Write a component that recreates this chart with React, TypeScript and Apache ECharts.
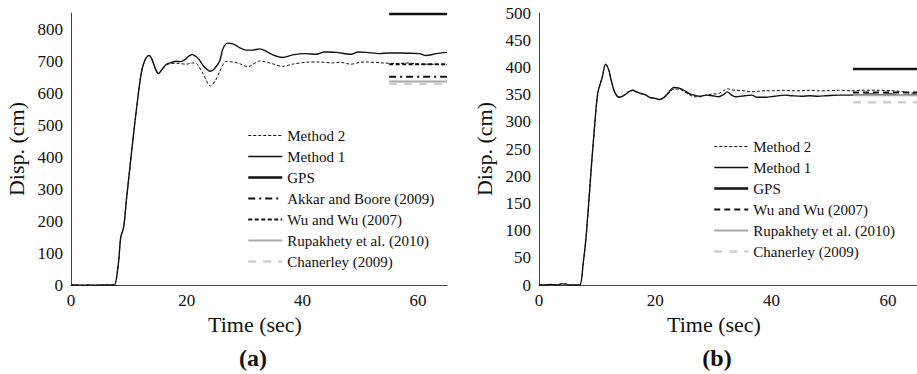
import React, { useEffect, useRef } from "react";
import * as echarts from "echarts";

// ---- Data: chart (a) ----
const method1A: number[][] = [
  [0, 0], [1, 0], [2, -1], [3, 0], [4, -1], [5, 0], [6, 0], [7, 0], [7.5, 0], [8.2, 68], [8.6, 150], [9.1, 180],
  [9.6, 270], [10.2, 370], [10.8, 470], [11.3, 547], [11.8, 620], [12.2, 667], [12.8, 703], [13.5, 717], [14.0, 705],
  [14.6, 675], [15.1, 661], [15.8, 675], [16.5, 690], [17.3, 695], [18.2, 699], [19.0, 698], [19.8, 706], [20.4, 716],
  [21.0, 720], [21.6, 714], [22.2, 703], [23.0, 682], [24.1, 668], [24.8, 676], [25.7, 700], [26.3, 740], [27.1, 756],
  [28.2, 752], [29.2, 741], [30.3, 734], [31.4, 734], [32.6, 738], [33.7, 731], [34.9, 719], [36.6, 711], [38.3, 719],
  [40.6, 723], [42.4, 721], [43.8, 728], [45.8, 727], [48.4, 721], [49.6, 728], [51.0, 727], [53.3, 723], [55.0, 725],
  [56.7, 725], [60.2, 723], [61.4, 717], [63.1, 723], [65.0, 727]
];
const method2A: number[][] = [
  [0, 0], [1, 0], [2, -1], [3, 0], [4, -1], [5, 0], [6, 0], [7, 0], [7.5, 0], [8.2, 68], [8.6, 150], [9.1, 180],
  [9.6, 270], [10.2, 370], [10.8, 470], [11.3, 547], [11.8, 620], [12.2, 667], [12.8, 703], [13.5, 717], [14.0, 705],
  [14.6, 675], [15.1, 661], [15.8, 675], [16.5, 688], [17.3, 692], [18.2, 693], [19.9, 690], [21.0, 694], [21.7, 692],
  [22.8, 661], [24.1, 622], [25.0, 640], [25.7, 667], [26.8, 698], [28.0, 697], [29.1, 692], [30.6, 682], [31.5, 690],
  [32.6, 700], [33.5, 698], [34.9, 691], [36.6, 683], [38.3, 690], [40.6, 696], [42.9, 697], [45.2, 694], [46.5, 696],
  [48.4, 690], [50.0, 696], [51.0, 697], [53.9, 694], [56.7, 692], [58.0, 694], [60.2, 690], [62.0, 690], [65.0, 688]
];
const refRangeA = [55, 65];
const gpsA = 847;
const akkarA = 651;
const wuA = 690;
const rupakhetyA = 636;
const chanerleyA = 629;

// ---- Data: chart (b) ----
const method1B: number[][] = [
  [0, 0], [1, 0], [2, 1], [3, 0], [4, 2], [4.6, 2], [5, 0], [6, 0], [7, 0], [7.6, 40], [8.15, 95], [9.0, 217],
  [9.6, 297], [10.1, 352], [10.9, 383], [11.45, 406], [12.0, 395], [12.4, 377], [13.0, 355], [13.8, 345], [14.7, 349],
  [15.4, 355], [16.1, 358], [16.8, 355], [17.5, 352], [18.4, 349], [19.0, 345], [20.0, 343], [20.7, 341], [21.5, 345],
  [22.2, 353], [23.2, 363], [24.1, 362], [24.9, 358], [25.8, 352], [26.7, 349], [27.7, 347], [28.7, 349], [29.8, 348],
  [30.9, 346], [31.7, 350], [32.4, 355], [33.0, 350], [33.8, 346], [35.4, 348], [36.6, 349], [37.5, 345], [38.9, 345],
  [40.5, 347], [42.3, 349], [43.5, 348], [45.2, 347], [46.6, 348], [48.0, 347], [49.5, 348], [51.5, 349], [53.7, 349],
  [55.5, 350], [57.1, 351], [58.5, 350], [60.5, 351], [62.0, 349], [63.9, 350], [65.0, 350]
];
const method2B: number[][] = [
  [0, 0], [1, 0], [2, 1], [3, 0], [4, 2], [4.6, 2], [5, 0], [6, 0], [7, 0], [7.6, 40], [8.15, 95], [9.0, 217],
  [9.6, 297], [10.1, 352], [10.9, 383], [11.45, 406], [12.0, 395], [12.4, 377], [13.0, 355], [13.8, 345], [14.7, 349],
  [15.4, 355], [16.1, 358], [16.8, 355], [17.5, 352], [18.4, 349], [19.0, 345], [20.0, 343], [20.7, 341], [21.5, 344],
  [22.2, 351], [23.2, 360], [24.1, 360], [24.9, 356], [25.8, 350], [26.7, 346], [27.7, 346], [28.7, 349], [29.8, 351],
  [30.9, 352], [31.7, 357], [32.4, 361], [33.0, 359], [33.8, 358], [35.4, 357], [36.6, 355], [37.5, 356], [38.9, 357],
  [40.5, 357], [42.3, 358], [43.5, 357], [45.2, 357], [46.6, 358], [48.0, 357], [49.5, 357], [51.5, 358], [53.7, 357],
  [55.5, 358], [57.1, 358], [58.5, 358], [60.5, 357], [62.0, 356], [63.9, 353], [65.0, 352]
];
const refRangeB = [54, 65];
const gpsB = 397;
const wuB = 354;
const rupakhetyB = 349;
const chanerleyB = 336;

const xTicks = [0, 20, 40, 60];
const yTicksA = [0, 100, 200, 300, 400, 500, 600, 700, 800];
const yTicksB = [0, 50, 100, 150, 200, 250, 300, 350, 400, 450, 500];

const SERIF = "Liberation Serif";
const INK = "#111";

const NAMES = {
  m2: "Method 2",
  m1: "Method 1",
  gps: "GPS",
  akkar: "Akkar and Boore (2009)",
  wu: "Wu and Wu (2007)",
  rup: "Rupakhety et al. (2010)",
  chan: "Chanerley (2009)",
};

const styles: Record<string, any> = {
  m2: { color: INK, width: 1, type: [3, 2] },
  m1: { color: INK, width: 1.4, type: "solid" },
  gps: { color: INK, width: 2.5, type: "solid" },
  akkar: { color: INK, width: 2, type: [7, 4, 2, 4] },
  wuA: { color: INK, width: 2, type: [4, 2.5] },
  wuB: { color: INK, width: 2, type: [6, 4] },
  rup: { color: "#a8a8a8", width: 2, type: "solid" },
  chan: { color: "#cfcfcf", width: 2.5, type: [8, 7] },
};

function refLine(range: number[], v: number): number[][] {
  return [[range[0], v], [range[1], v]];
}

function lineSeries(name: string, data: number[][], style: any, idx: number, smooth: number | boolean = false) {
  return {
    type: "line",
    name,
    data,
    xAxisIndex: idx,
    yAxisIndex: idx,
    symbol: "none",
    showSymbol: false,
    smooth,
    silent: true,
    color: style.color,
    lineStyle: { color: style.color, width: style.width, type: style.type },
  };
}

function legendItem(key: string, styleKey: string) {
  const s = styles[styleKey];
  return {
    name: (NAMES as any)[key],
    itemStyle: { opacity: 0 },
    lineStyle: { color: s.color, width: s.width, type: s.type, opacity: 1 },
    textStyle: { fontFamily: SERIF, fontSize: 15, color: INK },
  };
}

function axisX(idx: number) {
  return {
    type: "value",
    gridIndex: idx,
    min: 0,
    max: 65,
    interval: 20,
    name: "Time (sec)",
    nameLocation: "middle",
    nameGap: 27,
    nameTextStyle: {
      fontFamily: SERIF,
      fontSize: 22,
      color: INK,
      padding: idx === 1 ? [0, 28, 0, 0] : [0, 8, 0, 0],
    },
    axisLine: { show: true, lineStyle: { color: "#444", width: 1 } },
    axisTick: { show: false },
    splitLine: { show: false },
    axisLabel: {
      fontFamily: SERIF,
      fontSize: 17,
      color: INK,
      margin: 7,
      showMaxLabel: false,
      formatter: (v: number) => (xTicks.indexOf(v) >= 0 ? String(v) : ""),
    },
  };
}

function axisY(idx: number, max: number, interval: number, ticks: number[]) {
  return {
    type: "value",
    gridIndex: idx,
    min: 0,
    max,
    interval,
    name: "Disp. (cm)",
    nameLocation: "middle",
    nameRotate: 90,
    nameGap: 44,
    nameTextStyle: { fontFamily: SERIF, fontSize: 22, color: INK },
    axisLine: { show: true, lineStyle: { color: "#444", width: 1 } },
    axisTick: { show: false },
    splitLine: { show: false },
    axisLabel: {
      fontFamily: SERIF,
      fontSize: 17,
      color: INK,
      margin: 8,
      formatter: (v: number) => (ticks.indexOf(v) >= 0 ? String(v) : ""),
    },
  };
}

export default function App() {
  const ref = useRef<HTMLDivElement>(null);

  useEffect(() => {
    if (!ref.current) return;
    const chart = echarts.init(ref.current, null, { renderer: "svg" });

    const series: any[] = [
      lineSeries(NAMES.m2, method2A, styles.m2, 0, 0.3),
      lineSeries(NAMES.m1, method1A, styles.m1, 0, 0.3),
      lineSeries(NAMES.gps, refLine(refRangeA, gpsA), styles.gps, 0),
      lineSeries(NAMES.akkar, refLine(refRangeA, akkarA), styles.akkar, 0),
      lineSeries(NAMES.wu, refLine(refRangeA, wuA), styles.wuA, 0),
      lineSeries(NAMES.rup, refLine(refRangeA, rupakhetyA), styles.rup, 0),
      lineSeries(NAMES.chan, refLine(refRangeA, chanerleyA), styles.chan, 0),
      lineSeries(NAMES.m2, method2B, styles.m2, 1, 0.3),
      lineSeries(NAMES.m1, method1B, styles.m1, 1, 0.3),
      lineSeries(NAMES.gps, refLine(refRangeB, gpsB), styles.gps, 1),
      lineSeries(NAMES.wu, refLine(refRangeB, wuB), styles.wuB, 1),
      lineSeries(NAMES.rup, refLine(refRangeB, rupakhetyB), styles.rup, 1),
      lineSeries(NAMES.chan, refLine(refRangeB, chanerleyB), styles.chan, 1),
    ];

    const legendCommon = {
      orient: "vertical",
      selectedMode: false,
      itemWidth: 34,
      itemHeight: 14,
      itemGap: 6,
      padding: 0,
      textStyle: { fontFamily: SERIF, fontSize: 15, color: INK },
    };

    chart.setOption({
      animation: false,
      backgroundColor: "#fff",
      textStyle: { fontFamily: SERIF },
      grid: [
        { left: 71, top: 13, width: 376, height: 272 },
        { left: 539, top: 13, width: 380, height: 272 },
      ],
      xAxis: [axisX(0), axisX(1)],
      yAxis: [axisY(0, 850, 100, yTicksA), axisY(1, 500, 50, yTicksB)],
      legend: [
        {
          ...legendCommon,
          left: 247,
          top: 128,
          data: [
            legendItem("m2", "m2"),
            legendItem("m1", "m1"),
            legendItem("gps", "gps"),
            legendItem("akkar", "akkar"),
            legendItem("wu", "wuA"),
            legendItem("rup", "rup"),
            legendItem("chan", "chan"),
          ],
        },
        {
          ...legendCommon,
          left: 713,
          top: 139,
          data: [
            legendItem("m2", "m2"),
            legendItem("m1", "m1"),
            legendItem("gps", "gps"),
            legendItem("wu", "wuB"),
            legendItem("rup", "rup"),
            legendItem("chan", "chan"),
          ],
        },
      ],
      graphic: [
        {
          type: "text",
          x: 253,
          y: 358,
          style: { text: "(a)", font: `bold 24px "${SERIF}"`, fill: INK, align: "center", verticalAlign: "middle" },
        },
        {
          type: "text",
          x: 717,
          y: 358,
          style: { text: "(b)", font: `bold 24px "${SERIF}"`, fill: INK, align: "center", verticalAlign: "middle" },
        },
      ],
      series,
    });

    return () => chart.dispose();
  }, []);

  return (
    <div
      ref={ref}
      style={{ position: "absolute", left: 0, top: 0, width: 917, height: 374, background: "#fff" }}
    />
  );
}
